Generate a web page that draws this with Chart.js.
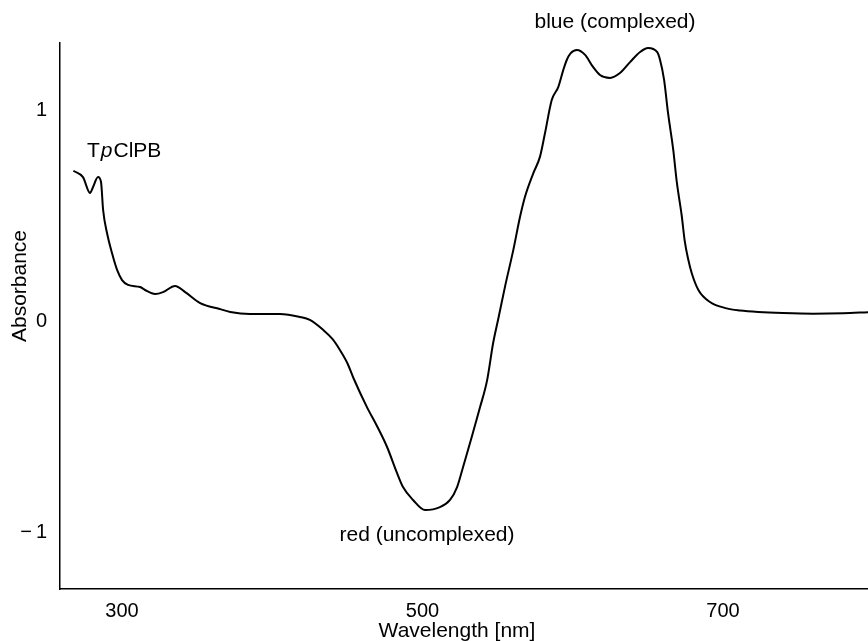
<!DOCTYPE html>
<html><head><meta charset="utf-8">
<script src="https://cdn.jsdelivr.net/npm/chart.js@4"></script>
<style>html,body{margin:0;padding:0;background:#fff;}#wrap{width:868px;height:641px;position:relative}</style>
</head><body><div id="wrap"><canvas id="c" width="868" height="641"></canvas></div>
<script>
const wavelength = [267.6, 274.0, 278.7, 280.7, 284.0, 286.0, 287.4, 290.0, 293.3, 296.7, 300.0, 304.0, 312.0, 315.3, 322.0, 327.3, 335.3, 342.0, 352.0, 365.0, 372.0, 385.0, 405.0, 418.5, 425.0, 434.0, 440.0, 445.0, 450.0, 454.0, 463.0, 470.0, 476.4, 483.0, 487.0, 493.7, 501.7, 511.6, 518.3, 523.0, 527.0, 531.6, 538.3, 543.0, 547.0, 550.5, 554.9, 560.4, 564.9, 568.2, 573.7, 578.2, 581.5, 586.0, 590.4, 593.7, 596.0, 598.5, 602.8, 608.2, 613.5, 618.1, 624.8, 631.4, 638.1, 644.8, 650.1, 656.1, 658.1, 660.8, 663.4, 666.9, 669.2, 672.5, 674.5, 676.9, 679.2, 683.6, 691.3, 702.4, 711.3, 723.5, 740.0, 760.0, 780.0, 796.5];
const absorbance = [0.712, 0.682, 0.607, 0.635, 0.682, 0.659, 0.526, 0.417, 0.322, 0.242, 0.194, 0.171, 0.161, 0.147, 0.128, 0.137, 0.166, 0.137, 0.085, 0.057, 0.043, 0.033, 0.033, 0.019, 0.005, -0.043, -0.085, -0.137, -0.200, -0.270, -0.408, -0.502, -0.597, -0.720, -0.787, -0.848, -0.896, -0.882, -0.848, -0.787, -0.692, -0.578, -0.408, -0.280, -0.104, 0.013, 0.163, 0.336, 0.494, 0.589, 0.700, 0.779, 0.890, 1.047, 1.110, 1.190, 1.237, 1.268, 1.284, 1.261, 1.204, 1.166, 1.152, 1.175, 1.227, 1.275, 1.294, 1.275, 1.237, 1.142, 0.986, 0.810, 0.660, 0.500, 0.380, 0.290, 0.226, 0.147, 0.090, 0.060, 0.050, 0.043, 0.038, 0.035, 0.037, 0.042];
const xTicks = [300, 500, 700];
const yTicks = [-1, 0, 1];
const xTitle = 'Wavelength [nm]';
const yTitle = 'Absorbance';
const peakLabels = ['blue (complexed)', 'red (uncomplexed)'];
const compoundLabel = ['T', 'p', 'ClPB'];

const FONT = '"Liberation Sans", Arial, Helvetica, sans-serif';
const points = wavelength.map((w, i) => ({x: w, y: absorbance[i]}));

const annot = {
  id: 'annot',
  afterDraw(chart) {
    const ctx = chart.ctx;
    ctx.save();
    ctx.fillStyle = '#000';
    ctx.textBaseline = 'alphabetic';
    ctx.font = '21px ' + FONT;
    ctx.textAlign = 'center';
    ctx.fillText(peakLabels[0], 615, 28);
    ctx.fillText(peakLabels[1], 427, 541);
    ctx.fillText(xTitle, 457, 637);
    ctx.save();
    ctx.translate(26, 286);
    ctx.rotate(-Math.PI / 2);
    ctx.fillText(yTitle, 0, 0);
    ctx.restore();
    ctx.textAlign = 'left';
    let x = 87;
    const y = 157;
    ctx.font = '21px ' + FONT;
    ctx.fillText(compoundLabel[0], x, y);
    x += ctx.measureText(compoundLabel[0]).width + 1;
    ctx.font = 'italic 21px ' + FONT;
    ctx.fillText(compoundLabel[1], x, y);
    x += ctx.measureText(compoundLabel[1]).width + 1;
    ctx.font = '21px ' + FONT;
    ctx.fillText(compoundLabel[2], x, y);
    ctx.restore();
  }
};

new Chart(document.getElementById('c'), {
  type: 'line',
  data: {
    datasets: [{
      data: points,
      borderColor: '#000',
      borderWidth: 2,
      pointRadius: 0,
      fill: false,
      cubicInterpolationMode: 'monotone'
    }]
  },
  options: {
    responsive: false,
    animation: false,
    layout: {padding: {top: 43, right: 0, left: 0, bottom: 0}},
    plugins: {legend: {display: false}, tooltip: {enabled: false}, title: {display: false}},
    scales: {
      x: {
        type: 'linear',
        min: 258.7,
        max: 796.5,
        afterBuildTicks: s => { s.ticks = xTicks.map(v => ({value: v})); },
        afterFit: s => { s.height = 52; },
        grid: {display: false, drawTicks: false},
        border: {display: true, color: '#000', width: 1.5},
        ticks: {color: '#000', font: {family: FONT, size: 20}, padding: 10, maxRotation: 0, autoSkip: false,
          callback: v => String(v)}
      },
      y: {
        type: 'linear',
        min: -1.27,
        max: 1.3175,
        afterBuildTicks: s => { s.ticks = yTicks.map(v => ({value: v})); },
        afterFit: s => { s.width = 60; },
        grid: {display: false, drawTicks: false},
        border: {display: true, color: '#000', width: 1.5},
        ticks: {color: '#000', font: {family: FONT, size: 20}, padding: 13, autoSkip: false,
          callback: v => v < 0 ? '\u2212\u2009' + Math.abs(v) : String(v)}
      }
    }
  },
  plugins: [annot]
});
</script>
</body></html>
